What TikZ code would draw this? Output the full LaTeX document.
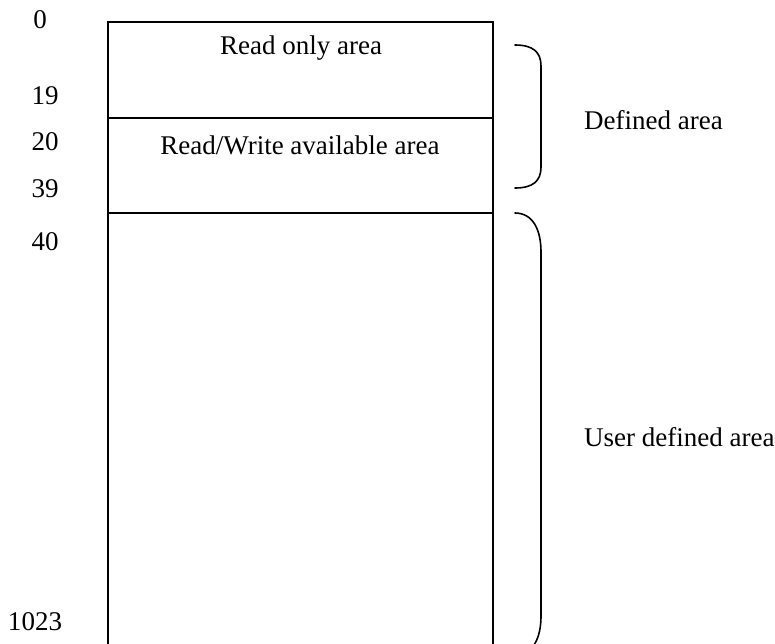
\documentclass[tikz,border=0pt]{standalone}
\usepackage{fontspec}
\setmainfont{Liberation Serif}
\begin{document}
\begin{tikzpicture}[x=1pt,y=-1pt,
  lbl/.style={font=\fontsize{27}{32}\selectfont, inner sep=0pt},
  edge/.style={line width=1.6pt, line cap=butt},
  brace/.style={line width=1.6pt, line cap=round}]
\useasboundingbox (0,0) rectangle (775,643);
\begin{scope}
\clip (0,0) rectangle (775,643);
% memory box
\coordinate (tl) at (108,22);
\coordinate (tr) at (493,22);
\coordinate (bl) at (108,650);
\coordinate (br) at (493,650);
\draw[edge] (bl) -- (tl) -- (tr) -- (br);
\coordinate (s1l) at (108,118);
\coordinate (s1r) at (493,118);
\coordinate (s2l) at (108,213);
\coordinate (s2r) at (493,213);
\draw[edge] (s1l) -- (s1r);
\draw[edge] (s2l) -- (s2r);
% braces
\coordinate (b1a) at (515,45);
\coordinate (b1b) at (515,188);
\draw[brace] (b1a) .. controls (533,45) and (541,52) .. (541,66) -- (541,167) .. controls (541,181) and (533,188) .. (b1b);
\coordinate (b2a) at (515,213);
\coordinate (b2b) at (515,655);
\draw[brace] (b2a) .. controls (533,213) and (541,230) .. (541,252) -- (541,616) .. controls (541,638) and (533,655) .. (b2b);
\end{scope}
% addresses
\node[lbl] (a0) at (40,20) {0};
\node[lbl] (a19) at (45,96) {19};
\node[lbl] (a20) at (45,142) {20};
\node[lbl] (a39) at (45,189) {39};
\node[lbl] (a40) at (45,242) {40};
\node[lbl] (a1023) at (35,622) {1023};
% area texts
\node[lbl] (ro) at (301,48) {Read only area};
\node[lbl] (rw) at (300,145) {Read/Write available area};
\node[lbl, anchor=west] (def) at (584,120) {Defined area};
\node[lbl, anchor=west] (usr) at (584,437) {User defined area};
\end{tikzpicture}
\end{document}
